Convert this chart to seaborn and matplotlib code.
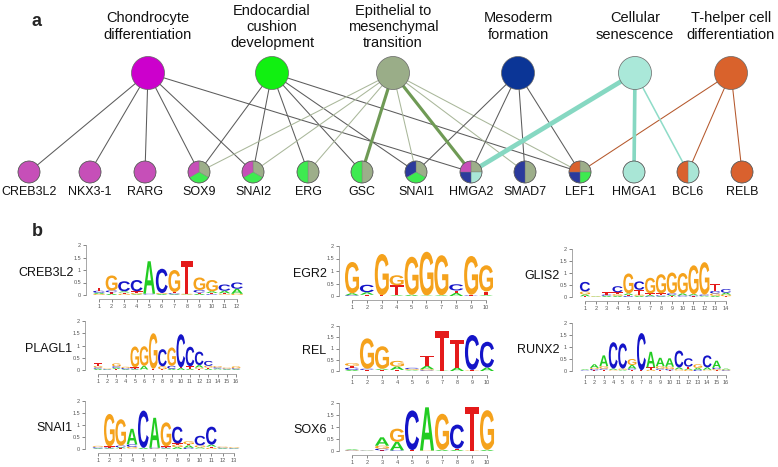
import numpy as np
import matplotlib
matplotlib.use("Agg")
import matplotlib.pyplot as plt
import seaborn as sns
from matplotlib.patches import Circle, Wedge, PathPatch
from matplotlib.textpath import TextPath
from matplotlib.font_manager import FontProperties
from matplotlib.transforms import Affine2D

# ---------------------------------------------------------------- data (a)
pathway_keys = ["chondro", "endo", "emt", "meso", "senes", "th"]
pathway_labels = ["Chondrocyte\ndifferentiation",
                  "Endocardial\ncushion\ndevelopment",
                  "Epithelial to\nmesenchymal\ntransition",
                  "Mesoderm\nformation",
                  "Cellular\nsenescence",
                  "T-helper cell\ndifferentiation"]
genes = ["CREB3L2", "NKX3-1", "RARG", "SOX9", "SNAI2", "ERG", "GSC",
         "SNAI1", "HMGA2", "SMAD7", "LEF1", "HMGA1", "BCL6", "RELB"]
edge_pathway = ["chondro"] * 6 + ["endo"] * 6 + ["emt"] * 8 + ["meso"] * 4 + ["senes"] * 3 + ["th"] * 3
edge_gene = ["CREB3L2", "NKX3-1", "RARG", "SOX9", "SNAI2", "HMGA2",
             "SOX9", "SNAI2", "ERG", "GSC", "SNAI1", "LEF1",
             "SOX9", "SNAI2", "ERG", "GSC", "SNAI1", "HMGA2", "SMAD7", "LEF1",
             "SNAI1", "HMGA2", "SMAD7", "LEF1",
             "HMGA2", "HMGA1", "BCL6",
             "LEF1", "BCL6", "RELB"]
edge_weight = [1, 1, 1, 1, 1, 1,
               1, 1, 1, 1, 1, 1,
               1, 1, 1, 3, 1, 3, 1, 1,
               1, 1, 1, 1,
               4.5, 3.5, 1.5,
               1, 1, 1]

# ---------------------------------------------------------------- data (b)
motif_names = ["CREB3L2", "PLAGL1", "SNAI1", "EGR2", "REL", "SOX6", "GLIS2", "RUNX2"]
# each position: letters bottom -> top with information (bits x 100)
creb3l2 = ["G4 A5 C8 T12", "A5 T6 C7 G60", "G5 T5 A5 C40", "A3 G5 T7 C45",
           "T2 C3 A130", "A4 G4 C97", "A3 C4 T5 G88", "A2 G3 T130",
           "A5 T5 C10 G50", "C3 T5 A7 G45", "G3 T4 A10 C25", "G5 A20 C25"]
plagl1 = ["A5 C5 G7 T10", "A2 C2 G2", "T4 A5 C6 G12", "A3 C5 G5",
          "A3 C3 T5 G85", "T2 A15 G80", "T5 G145", "T3 G12 C70",
          "A5 C12 G75", "A8 T3 C135", "A5 T10 C80", "T5 G5 A10 C55",
          "A5 T5 G7 C20", "T2 A4 C5 G5", "A3 C3 G4", "A3 C4 G8"]
snai1 = ["A3 C4 T2 G4", "A3 C3 T5 G135", "T3 A4 C7 G110", "T2 G7 C10 A65",
         "A5 C155", "G2 C3 A125", "A3 C3 T5 G100", "A8 G10 T5 C70",
         "C5 A10 T5 G12", "T2 A5 G8 C40", "G5 T5 A8 C75", "A3 C3 G4", "A2 C2 G3"]
egr2 = ["C3 A8 G125", "T5 A10 C30", "T3 G165", "A3 T40 G40", "A5 G152",
        "A2 G175", "A3 G160", "A12 T10 C25", "C2 T3 G155", "A3 T15 G105"]
rel = ["A5 C10 T8 G12", "T5 C5 G135", "T5 A5 G100", "T5 A15 G25", "T2 A3 G4 C5",
       "C3 G5 A15 T45", "A2 T175", "A15 T125", "G2 T3 C155", "A15 C115"]
sox6 = ["C2 G2 A3", "A1 G1 C1", "T3 C7 G12 A35", "C3 A35 G55", "T4 C165",
        "G2 A180", "A5 G150", "A5 T5 C100", "G2 T180", "A5 G165"]
glis2 = ["T3 A8 G12 C40", "A2 G2", "A5 C5 T10", "A5 G7 T8 C25", "C4 T4 A7 G83",
         "A5 G5 T20 C35", "C3 A5 T7 G65", "A3 C4 T8 G80", "T3 A5 C7 G87",
         "T2 C5 A8 G85", "T3 C4 A5 G120", "T2 A3 C5 G135", "A5 G10 C10 T28",
         "T3 G7 A8 C15"]
runx2 = ["T2 C2 A3", "T3 C5 G5 A15", "T5 C5 G10 A45", "T2 G3 A5 C110",
         "T2 A3 G5 C105", "T5 C5 A15 G25", "T3 C155", "G5 T10 A65",
         "T5 C5 G10 A35", "T3 C5 G10 A35", "T2 G5 A8 C70", "G5 A5 T8 C35",
         "C5 A8 G15", "T2 G3 A10 C50", "T3 G5 C5 A30", "C3 G3 A4"]
motif_stacks = [creb3l2, plagl1, snai1, egr2, rel, sox6, glis2, runx2]
ytick_vals = [0, 0.5, 1, 1.5, 2]
ytick_labels = ["0", "0.5", "1", "1.5", "2"]

# ---------------------------------------------------------------- styles / layout
sns.set_theme(style="white")
plt.rcParams["font.family"] = ["Liberation Sans", "DejaVu Sans"]

W, H = 778, 467
node_col = {"chondro": "#cc00cc", "endo": "#11f011", "emt": "#9aad88",
            "meso": "#0b3596", "senes": "#aae8d9", "th": "#d9622c"}
pie_col = {"chondro": "#c64fb8", "endo": "#3eea50", "emt": "#9dae8a",
           "meso": "#2b3a9c", "senes": "#a9e6d6", "th": "#d9612e"}
edge_col = {"chondro": "#5c5c5c", "endo": "#5c5c5c", "meso": "#5c5c5c",
            "emt": "#a9b79a", "senes": "#8fdcc8", "th": "#b5582c"}
edge_strong = {"emt": "#6f9a55", "senes": "#86d8c2"}
slice_order = ["emt", "senes", "endo", "meso", "chondro", "th"]
letter_col = {"A": "#22cc22", "C": "#1414c8", "G": "#f5a21c", "T": "#e41a1a"}

pathway_xpos = [148, 272, 393, 518, 635, 731]
gene_xpos = [29, 90, 145, 199, 253, 308, 362, 416, 471, 525, 580, 634, 688, 742]
pathway_y, gene_y = 73, 172
pathway_r, gene_r = 16.5, 11

fig = plt.figure(figsize=(W / 100, H / 100), dpi=100)

# ---------------------------------------------------------------- panel a
ax = fig.add_axes([0, 1 - 210 / H, 1, 210 / H])
ax.set_xlim(0, W)
ax.set_ylim(210, 0)
ax.axis("off")

px = dict(zip(pathway_keys, pathway_xpos))
gx = dict(zip(genes, gene_xpos))

order = np.argsort(edge_weight, kind="stable")
for i in order:
    p, g, w = edge_pathway[i], edge_gene[i], edge_weight[i]
    col = edge_strong.get(p, edge_col[p]) if w >= 3 else edge_col[p]
    ax.plot([px[p], gx[g]], [pathway_y, gene_y], color=col, lw=0.75 * w,
            solid_capstyle="butt", zorder=1 + w / 10)

for k, lab in zip(pathway_keys, pathway_labels):
    ax.add_patch(Circle((px[k], pathway_y), pathway_r, fc=node_col[k],
                        ec="#666666", lw=0.5, zorder=5))
    ax.text(px[k], 27 if lab.count("\n") == 2 else 26.5, lab, ha="center",
            va="center", fontsize=10.5, linespacing=1.2, color="#111111")

for g in genes:
    members = [p for p in slice_order
               if any(ep == p and eg == g for ep, eg in zip(edge_pathway, edge_gene))]
    n = len(members)
    for j, p in enumerate(members):
        ax.add_patch(Wedge((gx[g], gene_y), gene_r, -90 + j * 360 / n,
                           -90 + (j + 1) * 360 / n, fc=pie_col[p],
                           ec="#777777", lw=0.25, zorder=5))
    ax.add_patch(Circle((gx[g], gene_y), gene_r, fill=False, ec="#555555",
                        lw=0.5, zorder=6))
    ax.text(gx[g], 192, g, ha="center", va="center", fontsize=9, color="#111111")

fig.text(37 / W, 1 - 22 / H, "a", fontsize=13, fontweight="bold", ha="center", va="center")
fig.text(37 / W, 1 - 232 / H, "b", fontsize=13, fontweight="bold", ha="center", va="center")

# ---------------------------------------------------------------- panel b
logo_layout = {  # first-pos px, last-pos px, y(0) px, y(2) px
    "CREB3L2": (99, 237, 295, 245), "PLAGL1": (98, 236, 370, 321),
    "SNAI1": (98, 234, 449, 401), "EGR2": (352, 486, 296, 246),
    "REL": (352, 487, 371, 326), "SOX6": (352, 487, 451, 403),
    "GLIS2": (585, 726, 297, 249), "RUNX2": (585, 726, 371, 323)}

fp = FontProperties(family="Liberation Sans", weight="bold")
glyphs = {}
for L in "ACGT":
    tp = TextPath((0, 0), L, size=1, prop=fp)
    glyphs[L] = (tp, tp.get_extents())


def draw_letter(axl, L, x, y, h, w=0.94):
    tp, ext = glyphs[L]
    t = (Affine2D().translate(-ext.x0, -ext.y0)
         .scale(w / ext.width, h / ext.height).translate(x - w / 2, y))
    axl.add_patch(PathPatch(t.transform_path(tp), fc=letter_col[L], ec="none", lw=0))


for name, stacks in zip(motif_names, motif_stacks):
    x1, xN, y0, y2 = logo_layout[name]
    N = len(stacks)
    ppx = (xN - x1) / (N - 1)
    ppu = (y0 - y2) / 2
    left, right = x1 - 13, xN + 0.5 * ppx + 2
    bottom, top = y0 + 4, y2 - 1
    axl = fig.add_axes([left / W, 1 - bottom / H, (right - left) / W, (bottom - top) / H])
    axl.set_xlim(1 - 13 / ppx, N + (0.5 * ppx + 2) / ppx)
    axl.set_ylim(-4 / ppu, 2 + 1 / ppu)
    axl.patch.set_alpha(0)
    for i, s in enumerate(stacks):
        ybase = 0.0
        for tok in s.split():
            h = int(tok[1:]) / 100
            draw_letter(axl, tok[0], i + 1, ybase, h)
            ybase += h
    sns.despine(ax=axl)
    for sp in ("left", "bottom"):
        axl.spines[sp].set_color("#999999")
        axl.spines[sp].set_linewidth(0.6)
    axl.spines["left"].set_bounds(0, 2)
    axl.spines["bottom"].set_bounds(1, N)
    axl.set_yticks(ytick_vals)
    axl.set_yticklabels(ytick_labels)
    axl.set_xticks(range(1, N + 1))
    axl.set_xticklabels([str(v) for v in range(1, N + 1)])
    axl.tick_params(axis="both", labelsize=4, colors="#555555", length=2,
                    width=0.5, pad=1.5, left=True, bottom=True)
    axl.grid(False)
    axl.annotate(name, xy=(0, 0.47), xycoords="axes fraction", xytext=(-9, 0),
                 textcoords="offset points", ha="right", va="center",
                 fontsize=9, color="#111111")

fig.savefig("out.png", dpi=100)
